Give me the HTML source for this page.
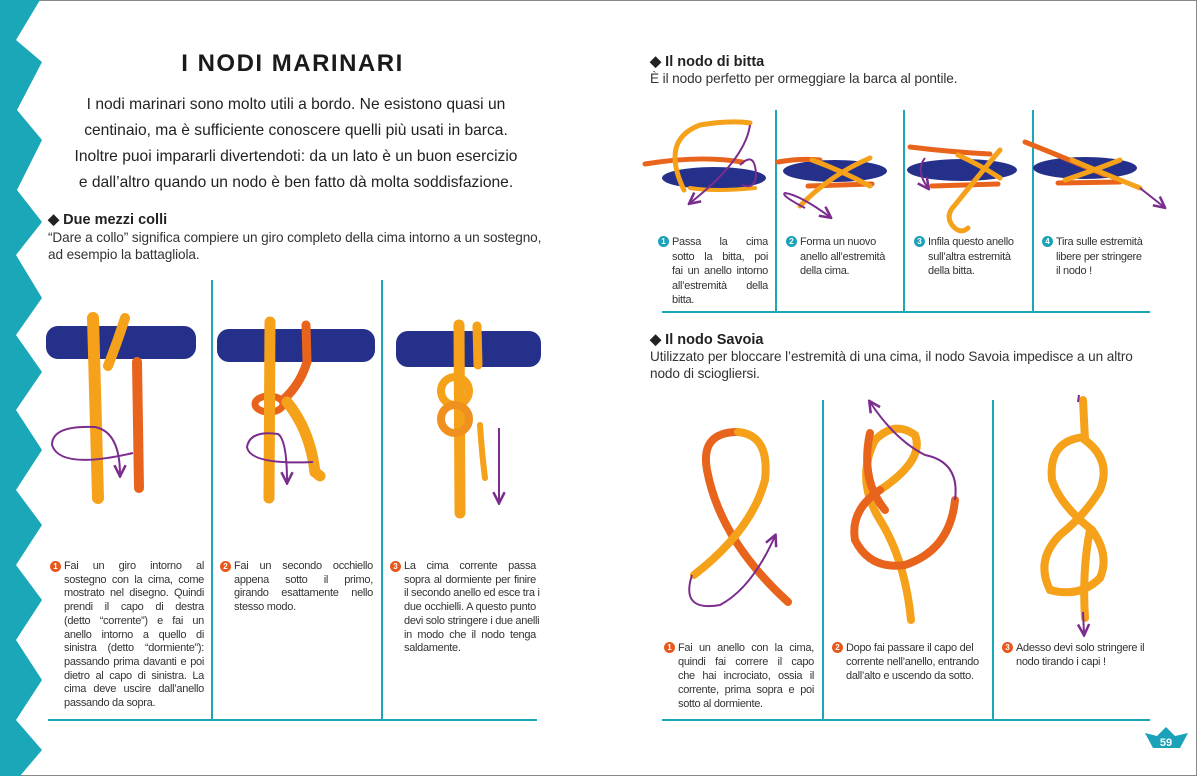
<!DOCTYPE html>
<html><head><meta charset="utf-8"><style>
body{margin:0;width:1200px;height:776px;overflow:hidden;background:#fff;font-family:"Liberation Sans",sans-serif;color:#222;position:relative}
.a{position:absolute;margin:0}
.t{font-size:11px;line-height:13.7px;color:#333;letter-spacing:-0.3px;padding-left:14px;box-sizing:border-box}
.t i{font-style:normal;display:block;white-space:nowrap;text-align:justify;text-align-last:justify}
.t i.l{text-align-last:left}
.n{position:absolute;left:0;top:1px;width:11px;height:11px;border-radius:50%;background:#e8581c;color:#fff;font-size:8px;line-height:11px;text-align:center;font-weight:bold;letter-spacing:0}
.nb{background:#1aa3b8}
h3{font-size:14.5px;font-weight:bold;margin:0}
.d{font-size:13.6px;line-height:17px;color:#333;letter-spacing:-0.1px}
</style></head><body>
<svg class="a" style="left:0;top:0" width="1200" height="776">
<defs>
<marker id="ar" viewBox="0 0 10 10" refX="8" refY="5" markerWidth="7" markerHeight="7" orient="auto-start-reverse"><path d="M1 1 L9 5 L1 9" fill="none" stroke="#7b2d8e" stroke-width="1.8"/></marker>
</defs>
<rect x="0.5" y="0.5" width="1196" height="775" fill="none" stroke="#888" stroke-width="1"/>
<polygon fill="#1aa7b8" points="0,0 40,0 16,40 42,62 17,110 42,140 17,190 42,222 16,255 42,298 16,335 42,372 16,410 42,450 16,490 42,525 16,565 42,600 16,640 42,680 16,720 42,750 20,776 0,776"/>
<g stroke="#1aa7b8" stroke-width="2">
<line x1="212" y1="280" x2="212" y2="720"/><line x1="382" y1="280" x2="382" y2="720"/><line x1="48" y1="720" x2="537" y2="720"/>
<line x1="776" y1="110" x2="776" y2="312"/><line x1="904" y1="110" x2="904" y2="312"/><line x1="1033" y1="110" x2="1033" y2="312"/><line x1="662" y1="312" x2="1150" y2="312"/>
<line x1="823" y1="400" x2="823" y2="720"/><line x1="993" y1="400" x2="993" y2="720"/><line x1="662" y1="720" x2="1150" y2="720"/>
</g>
<polygon fill="#1aa3b8" points="1145,733 1157,736 1166,727 1175,736 1188,733 1180,748 1153,748"/>
<text x="1166" y="746" font-size="11" font-weight="bold" fill="#fff" text-anchor="middle" font-family="Liberation Sans">59</text>
<!-- navy bars -->
<g fill="#25308a">
<rect x="46" y="326" width="150" height="33" rx="12"/><rect x="217" y="329" width="158" height="33" rx="12"/><rect x="396" y="331" width="145" height="36" rx="12"/>
<ellipse cx="714" cy="178" rx="52" ry="11"/><ellipse cx="835" cy="171" rx="52" ry="11"/><ellipse cx="962" cy="170" rx="55" ry="11"/><ellipse cx="1085" cy="168" rx="52" ry="11"/>
</g>
<!-- left ropes -->
<g fill="none" stroke-linecap="round">
<path d="M137 362 L139 488" stroke="#e8641c" stroke-width="10"/>
<path d="M93 318 Q95 400 98 498" stroke="#f5a11a" stroke-width="12"/>
<path d="M125 318 Q118 340 108 366" stroke="#f5a11a" stroke-width="10"/>
<path d="M306 325 L307 362 Q300 385 283 400" stroke="#e8641c" stroke-width="9"/>
<ellipse cx="269" cy="404" rx="14" ry="8" stroke="#e8641c" stroke-width="7"/>
<path d="M270 322 L269 498" stroke="#f5a11a" stroke-width="11"/>
<path d="M287 402 Q310 430 315 472 L320 476" stroke="#f5a11a" stroke-width="11"/>
<path d="M459 325 L460 513" stroke="#f5a11a" stroke-width="11"/>
<path d="M477 326 L478 365" stroke="#f5a11a" stroke-width="9"/>
<circle cx="455" cy="391" r="14" stroke="#f5a11a" stroke-width="8"/>
<circle cx="455" cy="419" r="14" stroke="#f0901e" stroke-width="8"/>
<path d="M480 425 Q482 455 485 478" stroke="#f5a11a" stroke-width="6"/>
</g>
<g fill="none" stroke="#7b2d8e" stroke-width="2">
<path d="M133 453 Q60 470 52 445 Q52 425 95 427 Q120 432 120 475" marker-end="url(#ar)"/>
<path d="M313 462 Q250 465 247 447 Q250 430 278 434 Q287 440 287 482" marker-end="url(#ar)"/>
<path d="M499 428 L499 502" marker-end="url(#ar)"/>
</g>
<!-- bitta ropes -->
<g fill="none" stroke-linecap="round" stroke-width="5">
<path d="M645 164 Q700 155 742 162" stroke="#e8641c"/>
<path d="M684 190 Q660 140 700 125 Q730 120 750 123" stroke="#f5a11a"/>
<path d="M690 188 Q715 192 755 188" stroke="#f5a11a" stroke-width="4"/>
<path d="M778 162 Q800 158 820 160" stroke="#e8641c"/>
<path d="M808 186 L872 184" stroke="#e8641c"/>
<path d="M812 160 Q840 170 870 186 M870 158 Q830 175 800 206" stroke="#f5a11a"/>
<path d="M910 147 Q950 152 990 154" stroke="#e8641c"/>
<path d="M932 186 L998 184" stroke="#e8641c"/>
<path d="M958 155 Q980 165 1000 178 M1000 150 Q975 180 955 205 Q945 215 952 225 Q960 235 968 228" stroke="#f5a11a"/>
<path d="M1025 142 Q1070 160 1105 175" stroke="#e8641c"/>
<path d="M1058 183 L1120 182" stroke="#e8641c"/>
<path d="M1072 160 Q1100 172 1140 188 M1120 160 Q1095 170 1065 180" stroke="#f5a11a"/>
</g>
<g fill="none" stroke="#7b2d8e" stroke-width="2">
<path d="M750 125 Q745 160 690 203" marker-end="url(#ar)"/>
<path d="M740 165 Q755 150 756 175 Q755 190 742 185"/>
<path d="M805 208 Q780 195 785 193 Q800 195 830 217" marker-end="url(#ar)"/>
<path d="M925 158 Q915 170 928 188" marker-end="url(#ar)"/>
<path d="M1140 188 L1164 207" marker-end="url(#ar)"/>
</g>
<!-- Savoia -->
<g fill="none" stroke-linecap="round" stroke-width="8">
<path d="M788 602 Q720 540 707 470 Q700 432 738 432" stroke="#e8641c"/>
<path d="M738 432 Q770 435 765 480 Q752 530 694 575" stroke="#f5a11a"/>
<path d="M911 620 Q905 560 880 520 Q855 480 875 440" stroke="#f5a11a"/>
<path d="M875 440 Q895 420 915 435 Q925 460 880 490" stroke="#f5a11a"/>
<path d="M880 490 Q850 510 855 540 Q870 570 905 565 Q950 550 955 500" stroke="#e8641c"/>
<path d="M870 433 Q860 480 885 510" stroke="#e8641c"/>
<path d="M1083 400 L1085 440 Q1112 460 1100 490 Q1085 515 1060 535 Q1035 560 1050 590 Q1080 598 1100 578 Q1110 555 1092 530 Q1060 505 1052 480 Q1048 440 1085 437" stroke="#f5a11a"/>
<path d="M1090 530 Q1082 570 1085 618" stroke="#f5a11a"/>
</g>
<g fill="none" stroke="#7b2d8e" stroke-width="2">
<path d="M692 575 Q680 612 720 605 Q752 588 775 536" marker-end="url(#ar)"/>
<path d="M955 500 Q960 462 925 455 Q895 440 870 402" marker-end="url(#ar)"/>
<path d="M1083 612 L1084 634" marker-end="url(#ar)"/>
<path d="M1079 395 L1078 402"/>
</g>
</svg>
<div class="a" style="left:120px;top:50px;width:345px;text-align:center;font-size:24px;font-weight:900;letter-spacing:1.5px;color:#1a1a1a">I NODI MARINARI</div>
<div class="a" style="left:40px;top:92px;width:512px;text-align:center;font-size:15.6px;line-height:26px">I nodi marinari sono molto utili a bordo. Ne esistono quasi un<br>centinaio, ma è sufficiente conoscere quelli più usati in barca.<br>Inoltre puoi impararli divertendoti: da un lato è un buon esercizio<br>e dall’altro quando un nodo è ben fatto dà molta soddisfazione.</div>
<div class="a" style="left:48px;top:212px"><h3>◆ Due mezzi colli</h3><div class="d" style="margin-top:1px">“Dare a collo” significa compiere un giro completo della cima intorno a un sostegno,<br>ad esempio la battagliola.</div></div>
<div class="a t" style="left:50px;top:560px;width:154px"><span class="n">1</span><i>Fai un giro intorno al</i><i>sostegno con la cima, come</i><i>mostrato nel disegno. Quindi</i><i>prendi il capo di destra</i><i>(detto “corrente”) e fai un</i><i>anello intorno a quello di</i><i>sinistra (detto “dormiente”):</i><i>passando prima davanti e poi</i><i>dietro al capo di sinistra. La</i><i>cima deve uscire dall’anello</i><i class="l">passando da sopra.</i></div>
<div class="a t" style="left:220px;top:560px;width:153px"><span class="n">2</span><i>Fai un secondo occhiello</i><i>appena sotto il primo,</i><i>girando esattamente nello</i><i class="l">stesso modo.</i></div>
<div class="a t" style="left:390px;top:560px;width:146px"><span class="n">3</span><i>La cima corrente passa</i><i>sopra al dormiente per finire</i><i>il secondo anello ed esce tra i</i><i>due occhielli. A questo punto</i><i>devi solo stringere i due anelli</i><i>in modo che il nodo tenga</i><i class="l">saldamente.</i></div>
<div class="a" style="left:650px;top:54px"><h3>◆ Il nodo di bitta</h3><div class="d">È il nodo perfetto per ormeggiare la barca al pontile.</div></div>
<div class="a t" style="left:658px;top:235px;width:110px;line-height:14.6px"><span class="n nb">1</span><i>Passa la cima</i><i>sotto la bitta, poi</i><i>fai un anello intorno</i><i>all’estremità della</i><i class="l">bitta.</i></div>
<div class="a t" style="left:786px;top:235px;width:112px;line-height:14.6px"><span class="n nb">2</span><i class="l">Forma un nuovo</i><i class="l">anello all’estremità</i><i class="l">della cima.</i></div>
<div class="a t" style="left:914px;top:235px;width:112px;line-height:14.6px"><span class="n nb">3</span><i class="l">Infila questo anello</i><i class="l">sull’altra estremità</i><i class="l">della bitta.</i></div>
<div class="a t" style="left:1042px;top:235px;width:112px;line-height:14.6px"><span class="n nb">4</span><i class="l">Tira sulle estremità</i><i class="l">libere per stringere</i><i class="l">il nodo !</i></div>
<div class="a" style="left:650px;top:332px"><h3>◆ Il nodo Savoia</h3><div class="d">Utilizzato per bloccare l’estremità di una cima, il nodo Savoia impedisce a un altro<br>nodo di sciogliersi.</div></div>
<div class="a t" style="left:664px;top:641px;width:150px;line-height:14px"><span class="n">1</span><i>Fai un anello con la cima,</i><i>quindi fai correre il capo</i><i>che hai incrociato, ossia il</i><i>corrente, prima sopra e poi</i><i class="l">sotto al dormiente.</i></div>
<div class="a t" style="left:832px;top:641px;width:160px;line-height:14px"><span class="n">2</span><i class="l">Dopo fai passare il capo del</i><i class="l">corrente nell’anello, entrando</i><i class="l">dall’alto e uscendo da sotto.</i></div>
<div class="a t" style="left:1002px;top:641px;width:165px;line-height:14px"><span class="n">3</span><i class="l">Adesso devi solo stringere il</i><i class="l">nodo tirando i capi !</i></div>
</body></html>
